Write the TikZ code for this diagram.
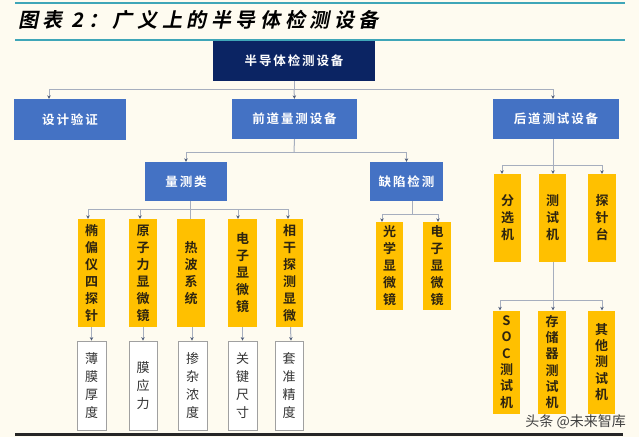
\documentclass[tikz,border=0pt]{standalone}
\usepackage{fontspec}
\setmainfont{Noto Sans CJK SC}[BoldFont={Noto Sans CJK SC Bold}]
\newfontfamily\boxfont{Noto Sans CJK SC Bold}[LetterSpace=15]
\newfontfamily\vfont{Noto Sans CJK SC Bold}
\newfontfamily\wfont{Noto Sans CJK SC}
\newfontfamily\titlefont{Noto Sans CJK SC Bold}[FakeSlant=0.2,LetterSpace=23]
\usetikzlibrary{arrows.meta}
\definecolor{bgc}{HTML}{FEFBF0}
\definecolor{tealc}{HTML}{3FA6B8}
\definecolor{navyc}{HTML}{0B2463}
\definecolor{bluec}{HTML}{4472C4}
\definecolor{yelc}{HTML}{FFC000}
\definecolor{linec}{HTML}{A6AEBE}
\definecolor{tipc}{HTML}{4F5D7A}
\definecolor{wbord}{HTML}{A0A0A0}
\definecolor{ytext}{HTML}{2E2410}
\tikzset{
  navybox/.style={fill=navyc,text=white,inner sep=0pt,font=\boxfont\fontsize{12.5}{14}\selectfont},
  bluebox/.style={fill=bluec,text=white,inner sep=0pt,minimum height=40pt,font=\boxfont\fontsize{12.5}{14}\selectfont},
  ybox/.style={fill=yelc,text=ytext,inner sep=0pt,align=center,font=\vfont\fontsize{13}{17}\selectfont},
  sbox/.style={ybox,font=\vfont\fontsize{13}{16.3}\selectfont},
  wbox/.style={fill=white,draw=wbord,line width=0.8pt,text=black!80,inner sep=0pt,align=center,font=\wfont\fontsize{13}{18}\selectfont},
  ln/.style={draw=linec,line width=1pt},
  conn/.style={ln,-{Stealth[length=3.5pt,width=3.5pt,color=tipc]}},
}
\begin{document}
\begin{tikzpicture}[x=1pt,y=-1pt]
\useasboundingbox (0,0) rectangle (639,437);
\fill[bgc] (0,0) rectangle (639,437);
% title
\draw[tealc,line width=2pt] (15,3) -- (625,3);
\draw[tealc,line width=2pt] (15,40) -- (625,40);
\node[anchor=west,inner sep=0pt,font=\titlefont\fontsize{20}{23}\selectfont] (title) at (18,20) {图表 2：广义上的半导体检测设备};
\draw[black!85,line width=3pt] (15,434.5) -- (623,434.5);
% level 1
\node[navybox,minimum width=162pt,minimum height=40pt] (top) at (294,61) {半导体检测设备};
% level 2
\node[bluebox,minimum width=112pt,minimum height=41pt] (sjyz) at (70,119.5) {设计验证};
\node[bluebox,minimum width=125pt] (qd) at (294.5,119) {前道量测设备};
\node[bluebox,minimum width=126pt] (hd) at (556,119) {后道测试设备};
% level 3
\node[bluebox,minimum width=82pt,minimum height=39pt] (lcl) at (186,181.5) {量测类};
\node[bluebox,minimum width=73pt,minimum height=39pt] (qxjc) at (406.5,181.5) {缺陷检测};
% metrology yellow
\node[ybox,minimum width=27pt,minimum height=108pt] (y1) at (91.5,273) {椭\\偏\\仪\\四\\探\\针};
\node[ybox,minimum width=28pt,minimum height=108pt] (y2) at (143,273) {原\\子\\力\\显\\微\\镜};
\node[ybox,minimum width=28pt,minimum height=108pt] (y3) at (191,273) {热\\波\\系\\统};
\node[ybox,minimum width=29pt,minimum height=108pt] (y4) at (242.5,273) {电\\子\\显\\微\\镜};
\node[ybox,minimum width=27pt,minimum height=108pt] (y5) at (289.5,273) {相\\干\\探\\测\\显\\微};
% metrology white
\node[wbox,minimum width=29pt,minimum height=89pt] (w1) at (91.5,385.5) {薄\\膜\\厚\\度};
\node[wbox,minimum width=28pt,minimum height=89pt] (w2) at (143,385.5) {膜\\应\\力};
\node[wbox,minimum width=29pt,minimum height=89pt] (w3) at (192.5,385.5) {掺\\杂\\浓\\度};
\node[wbox,minimum width=29pt,minimum height=89pt] (w4) at (242.5,385.5) {关\\键\\尺\\寸};
\node[wbox,minimum width=28pt,minimum height=89pt] (w5) at (289,385.5) {套\\准\\精\\度};
% defect
\node[ybox,minimum width=27pt,minimum height=88pt] (d1) at (389.5,266) {光\\学\\显\\微\\镜};
\node[ybox,minimum width=28pt,minimum height=88pt] (d2) at (437,266) {电\\子\\显\\微\\镜};
% back end
\node[ybox,minimum width=27pt,minimum height=88pt] (f1) at (507.5,218) {分\\选\\机};
\node[ybox,minimum width=27pt,minimum height=88pt] (f2) at (552.5,218) {测\\试\\机};
\node[ybox,minimum width=28pt,minimum height=88pt] (f3) at (602,218) {探\\针\\台};
\node[sbox,minimum width=27pt,minimum height=103pt] (s1) at (506.5,362) {S\\O\\C\\测\\试\\机};
\node[sbox,minimum width=28pt,minimum height=103pt] (s2) at (552,362) {存\\储\\器\\测\\试\\机};
\node[sbox,minimum width=27pt,minimum height=103pt] (s3) at (601.5,362) {其\\他\\测\\试\\机};
% connectors level 1 -> 2
\coordinate (b1) at (294,89);
\draw[ln] (top.south) -- (b1);
\draw[conn] (b1) -| ([xshift=-21pt]sjyz.north);
\draw[conn] (b1) -- (qd.north);
\draw[conn] (b1) -| ([xshift=-3pt]hd.north);
% qd -> level 3
\coordinate (b2) at (294,152);
\draw[ln] (qd.south) -- (b2);
\draw[conn] (b2) -| (lcl.north);
\draw[conn] (b2) -| (qxjc.north);
% lcl -> yellow
\coordinate (b3) at (190,209);
\draw[ln] ([xshift=4pt]lcl.south) -- ([xshift=-1pt]y3.north);
\draw[conn] (b3) -| ([xshift=-3.5pt]y1.north);
\draw[conn] (b3) -| ([xshift=-3pt]y2.north);
\draw[conn] (b3) -| ([xshift=-4.5pt]y4.north);
\draw[conn] (b3) -| ([xshift=-1.5pt]y5.north);
% yellow -> white
\draw[conn] (y1.south) -- (w1.north);
\draw[conn] (y2.south) -- (w2.north);
\draw[conn] ([xshift=1pt]y3.south) -- ([xshift=-0.5pt]w3.north);
\draw[conn] (y4.south) -- (w4.north);
\draw[conn] ([xshift=1pt]y5.south) -- ([xshift=2pt]w5.north);
% qxjc -> yellow
\coordinate (b4) at (412,214);
\draw[ln] ([xshift=5.5pt]qxjc.south) -- (b4);
\draw[conn] (b4) -| ([xshift=-7.5pt]d1.north);
\draw[conn] (b4) -| ([xshift=1pt]d2.north);
% hd -> yellow
\coordinate (b5) at (553,165);
\draw[ln] ([xshift=-3pt]hd.south) -- (b5);
\draw[conn] (b5) -| ([xshift=-5.5pt]f1.north);
\draw[conn] (b5) -- ([xshift=0.5pt]f2.north);
\draw[conn] (b5) -| (f3.north);
% ceshiji -> yellow
\coordinate (b6) at (553,300);
\draw[ln] ([xshift=0.5pt]f2.south) -- (b6);
\draw[conn] (b6) -| ([xshift=-6.5pt]s1.north);
\draw[conn] (b6) -- ([xshift=1pt]s2.north);
\draw[conn] (b6) -| ([xshift=0.5pt]s3.north);
% watermark
\node[anchor=east,inner sep=0pt,text=black!75,font=\wfont\fontsize{14}{16}\selectfont] (wm) at (626,422) {头条 @未来智库};
\end{tikzpicture}
\end{document}
